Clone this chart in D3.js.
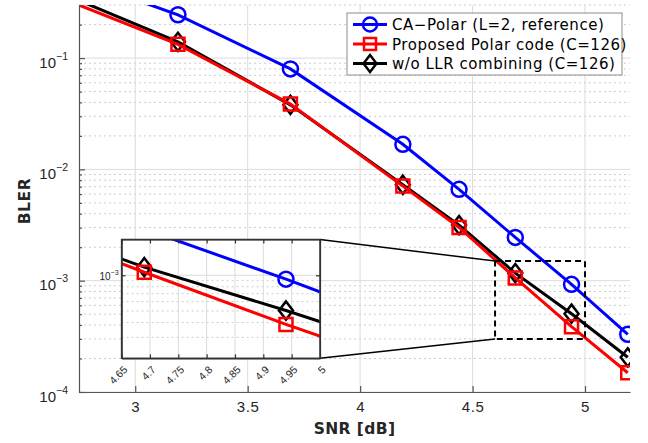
<!DOCTYPE html>
<html>
<head>
<meta charset="utf-8">
<script src="https://cdn.jsdelivr.net/npm/d3@7"></script>
<style>
  body { margin: 0; background: #fff; }
  svg { display: block; font-family: "DejaVu Sans", sans-serif; }
</style>
</head>
<body>
<div id="chart"></div>
<script>
let svgWidth = 648;
let svgHeight = 443;

// SNR points (dB) shared by all curves
let snr = [2.69, 3.19, 3.69, 4.19, 4.44, 4.69, 4.94, 5.19];
let blerCA = [0.56, 0.245, 0.0800, 0.0168, 0.00662, 0.00245, 0.000927, 0.00033];
let blerProposed = [0.335, 0.133, 0.0386, 0.00708, 0.00301, 0.00106, 0.000386, 0.000149];
let blerNoComb = [0.37, 0.140, 0.0380, 0.00728, 0.00316, 0.00117, 0.000505, 0.000205];

let seriesNames = ['CA\u2212Polar (L=2, reference)', 'Proposed Polar code (C=126)', 'w/o LLR combining (C=126)'];

let xTicks = [3, 3.5, 4, 4.5, 5];
let yTicks = [1e-4, 1e-3, 1e-2, 1e-1];
let insetXTicks = [4.65, 4.7, 4.75, 4.8, 4.85, 4.9, 4.95, 5];
let insetYTicks = [1e-3];
let zoomBox = {x0: 4.6, x1: 5.0, y0: 3e-4, y1: 1.5e-3};

let series = [
  {name: seriesNames[0], values: blerCA, color: '#0000ff', marker: 'circle'},
  {name: seriesNames[2], values: blerNoComb, color: '#000000', marker: 'diamond'},
  {name: seriesNames[1], values: blerProposed, color: '#ff0000', marker: 'square'}
];
let legendOrder = [0, 2, 1];

let plot = {left: 79, right: 630, top: 5, bottom: 392};
let inset = {left: 121.6, right: 320, top: 239.5, bottom: 358.3};

let svg = d3.select('#chart')
  .append('svg')
  .attr('width', svgWidth)
  .attr('height', svgHeight);

let x = d3.scaleLinear().domain([2.75, 5.2]).range([plot.left, plot.right]);
let y = d3.scaleLog().domain([1e-4, 0.3]).range([plot.bottom, plot.top]);
let xi = d3.scaleLinear().domain([4.65, 5]).range([inset.left, inset.right]);
let yi = d3.scaleLog().domain([2e-4, 2e-3]).range([inset.bottom, inset.top]);

function minorsOf(scale) {
  let [lo, hi] = scale.domain();
  let out = [];
  for (let e = Math.floor(Math.log10(lo)); e <= Math.ceil(Math.log10(hi)); e++) {
    for (let k = 2; k <= 9; k++) {
      let v = k * Math.pow(10, e);
      if (v >= lo - 1e-12 && v <= hi + 1e-12) out.push(v);
    }
  }
  return out;
}

let defs = svg.append('defs');
defs.append('clipPath').attr('id', 'clipMain')
  .append('rect')
  .attr('x', plot.left).attr('y', plot.top)
  .attr('width', plot.right - plot.left).attr('height', plot.bottom - plot.top);
defs.append('clipPath').attr('id', 'clipInset')
  .append('rect')
  .attr('x', inset.left).attr('y', inset.top)
  .attr('width', inset.right - inset.left).attr('height', inset.bottom - inset.top);

function drawGrid(g, xs, ys, xt, yt, box) {
  g.selectAll('.minor')
    .data(minorsOf(ys))
    .enter().append('line')
    .attr('x1', box.left).attr('x2', box.right)
    .attr('y1', d => ys(d)).attr('y2', d => ys(d))
    .attr('stroke', '#cdcdcd')
    .attr('stroke-width', 1)
    .attr('stroke-dasharray', '2,3');
  g.selectAll('.hmaj')
    .data(yt)
    .enter().append('line')
    .attr('x1', box.left).attr('x2', box.right)
    .attr('y1', d => ys(d)).attr('y2', d => ys(d))
    .attr('stroke', '#dcdcdc');
  g.selectAll('.vmaj')
    .data(xt)
    .enter().append('line')
    .attr('x1', d => xs(d)).attr('x2', d => xs(d))
    .attr('y1', box.top).attr('y2', box.bottom)
    .attr('stroke', '#dcdcdc');
}

function markerPath(type, s) {
  if (type === 'square') return `M${-s},${-s}H${s}V${s}H${-s}Z`;
  if (type === 'diamond') return `M0,${-s * 1.3}L${s},0L0,${s * 1.3}L${-s},0Z`;
  return d3.arc()({innerRadius: 0, outerRadius: s, startAngle: 0, endAngle: 2 * Math.PI});
}

function drawSeries(g, xs, ys, clipId, showAt) {
  let line = d3.line().x((d, i) => xs(snr[i])).y(d => ys(d));
  let cg = g.append('g').attr('clip-path', `url(#${clipId})`);
  series.forEach(function(s) {
    cg.append('path')
      .attr('d', line(s.values))
      .attr('fill', 'none')
      .attr('stroke', s.color)
      .attr('stroke-width', 3);
    let pts = s.values.map((v, i) => ({x: snr[i], v: v}))
      .filter(p => showAt(p.x, p.v));
    cg.selectAll(null)
      .data(pts)
      .enter().append('path')
      .attr('transform', p => `translate(${xs(p.x)},${ys(p.v)})`)
      .attr('d', markerPath(s.marker, s.marker === 'circle' ? 7.5 : (s.marker === 'square' ? 6.5 : 7)))
      .attr('fill', 'none')
      .attr('stroke', s.color)
      .attr('stroke-width', 2.5);
  });
}

// main grid
drawGrid(svg.append('g'), x, y, xTicks, yTicks, plot);

// main series
drawSeries(svg.append('g'), x, y, 'clipMain',
  (sx, v) => sx >= 2.75 && v <= 0.3);

// main axes
let xAxis = svg.append('g')
  .attr('transform', `translate(0,${plot.bottom})`)
  .call(d3.axisBottom(x).tickValues(xTicks).tickSizeInner(-6).tickSizeOuter(0).tickPadding(9)
    .tickFormat(d3.format('')));
let yAxis = svg.append('g')
  .attr('transform', `translate(${plot.left},0)`)
  .call(d3.axisLeft(y).tickValues(yTicks).tickSizeInner(-6).tickSizeOuter(0).tickFormat(''));
svg.append('g')
  .attr('transform', `translate(${plot.left},0)`)
  .call(d3.axisLeft(y).tickValues(minorsOf(y)).tickSizeInner(-3).tickSizeOuter(0).tickFormat(''))
  .select('.domain').remove();

svg.selectAll('.domain, .tick line')
  .attr('stroke', '#555')
  .attr('stroke-width', 1.2);
xAxis.selectAll('.tick text')
  .attr('font-size', 15)
  .attr('letter-spacing', 0.6)
  .attr('fill', '#262626');

yAxis.selectAll('.tick')
  .append('text')
  .attr('x', -11)
  .attr('y', 9)
  .attr('text-anchor', 'end')
  .attr('fill', '#262626')
  .attr('font-size', 15)
  .each(function(d) {
    let t = d3.select(this);
    t.append('tspan').text('10');
    t.append('tspan')
      .attr('dy', -8)
      .attr('font-size', 10.5)
      .text('\u2212' + Math.round(-Math.log10(d)));
  });

svg.append('text')
  .attr('x', (plot.left + plot.right) / 2)
  .attr('y', 434)
  .attr('text-anchor', 'middle')
  .attr('font-size', 15.5)
  .attr('font-weight', 'bold')
  .attr('letter-spacing', 0.4)
  .attr('fill', '#262626')
  .text('SNR [dB]');

svg.append('text')
  .attr('transform', 'rotate(-90)')
  .attr('x', -201)
  .attr('y', 30)
  .attr('text-anchor', 'middle')
  .attr('font-size', 15.5)
  .attr('font-weight', 'bold')
  .attr('letter-spacing', 0.6)
  .attr('fill', '#262626')
  .text('BLER');

// zoom rectangle and connectors
svg.append('rect')
  .attr('x', x(zoomBox.x0))
  .attr('y', y(zoomBox.y1))
  .attr('width', x(zoomBox.x1) - x(zoomBox.x0))
  .attr('height', y(zoomBox.y0) - y(zoomBox.y1))
  .attr('fill', 'none')
  .attr('stroke', '#000')
  .attr('stroke-width', 2)
  .attr('stroke-dasharray', '6,4');

svg.append('line')
  .attr('x1', inset.right).attr('y1', inset.top)
  .attr('x2', x(zoomBox.x0)).attr('y2', y(zoomBox.y1))
  .attr('stroke', '#000').attr('stroke-width', 1.5);
svg.append('line')
  .attr('x1', inset.right).attr('y1', inset.bottom)
  .attr('x2', x(zoomBox.x0)).attr('y2', y(zoomBox.y0))
  .attr('stroke', '#000').attr('stroke-width', 1.5);

// inset
let ig = svg.append('g');
ig.append('rect')
  .attr('x', inset.left).attr('y', inset.top)
  .attr('width', inset.right - inset.left).attr('height', inset.bottom - inset.top)
  .attr('fill', '#fff');
drawGrid(ig.append('g'), xi, yi, insetXTicks, insetYTicks, inset);
drawSeries(ig.append('g'), xi, yi, 'clipInset',
  (sx, v) => sx >= 4.65 && sx <= 5 && v >= 2e-4 && v <= 2e-3);

let ixAxis = ig.append('g')
  .attr('transform', `translate(0,${inset.bottom})`)
  .call(d3.axisBottom(xi).tickValues(insetXTicks).tickSizeInner(-4).tickSizeOuter(0).tickFormat(d3.format('')));
ig.append('g')
  .attr('transform', `translate(0,${inset.top})`)
  .call(d3.axisTop(xi).tickValues(insetXTicks).tickSizeInner(-4).tickSizeOuter(0).tickFormat(''));
let iyAxis = ig.append('g')
  .attr('transform', `translate(${inset.left},0)`)
  .call(d3.axisLeft(yi).tickValues(insetYTicks).tickSizeInner(-4).tickSizeOuter(0).tickFormat(''));
ig.append('g')
  .attr('transform', `translate(${inset.right},0)`)
  .call(d3.axisRight(yi).tickValues(insetYTicks).tickSizeInner(-4).tickSizeOuter(0).tickFormat(''));

ig.selectAll('.domain, .tick line')
  .attr('stroke', '#333')
  .attr('stroke-width', 1.2);

ixAxis.selectAll('.tick text')
  .attr('font-size', 10.5)
  .attr('fill', '#262626')
  .attr('text-anchor', 'end')
  .attr('dy', null)
  .attr('y', 0)
  .attr('transform', 'translate(6,12) rotate(-45)');

iyAxis.selectAll('.tick')
  .append('text')
  .attr('x', -3)
  .attr('y', 4)
  .attr('text-anchor', 'end')
  .attr('fill', '#262626')
  .attr('font-size', 10)
  .each(function(d) {
    let t = d3.select(this);
    t.append('tspan').text('10');
    t.append('tspan')
      .attr('dy', -5)
      .attr('font-size', 7)
      .text('\u2212' + Math.round(-Math.log10(d)));
  });

ig.append('rect')
  .attr('x', inset.left).attr('y', inset.top)
  .attr('width', inset.right - inset.left).attr('height', inset.bottom - inset.top)
  .attr('fill', 'none')
  .attr('stroke', '#333')
  .attr('stroke-width', 1.5);

// legend
let legend = svg.append('g').attr('transform', 'translate(347,13)');
legend.append('rect')
  .attr('width', 275).attr('height', 62)
  .attr('fill', '#fff')
  .attr('stroke', '#8c8c8c')
  .attr('stroke-width', 1);

legendOrder.forEach(function(si, row) {
  let s = series[si];
  let ry = 11.5 + row * 19.5;
  let item = legend.append('g').attr('transform', `translate(0,${ry})`);
  item.append('line')
    .attr('x1', 6).attr('x2', 40)
    .attr('stroke', s.color).attr('stroke-width', 3);
  item.append('path')
    .attr('transform', 'translate(23,0)')
    .attr('d', markerPath(s.marker, s.marker === 'circle' ? 7 : (s.marker === 'square' ? 6 : 6.5)))
    .attr('fill', 'none')
    .attr('stroke', s.color)
    .attr('stroke-width', 2.5);
  item.append('text')
    .attr('x', 45)
    .attr('y', 5.5)
    .attr('font-size', 15)
    .attr('letter-spacing', 0.55)
    .attr('fill', '#000')
    .text(s.name);
});
</script>
</body>
</html>
